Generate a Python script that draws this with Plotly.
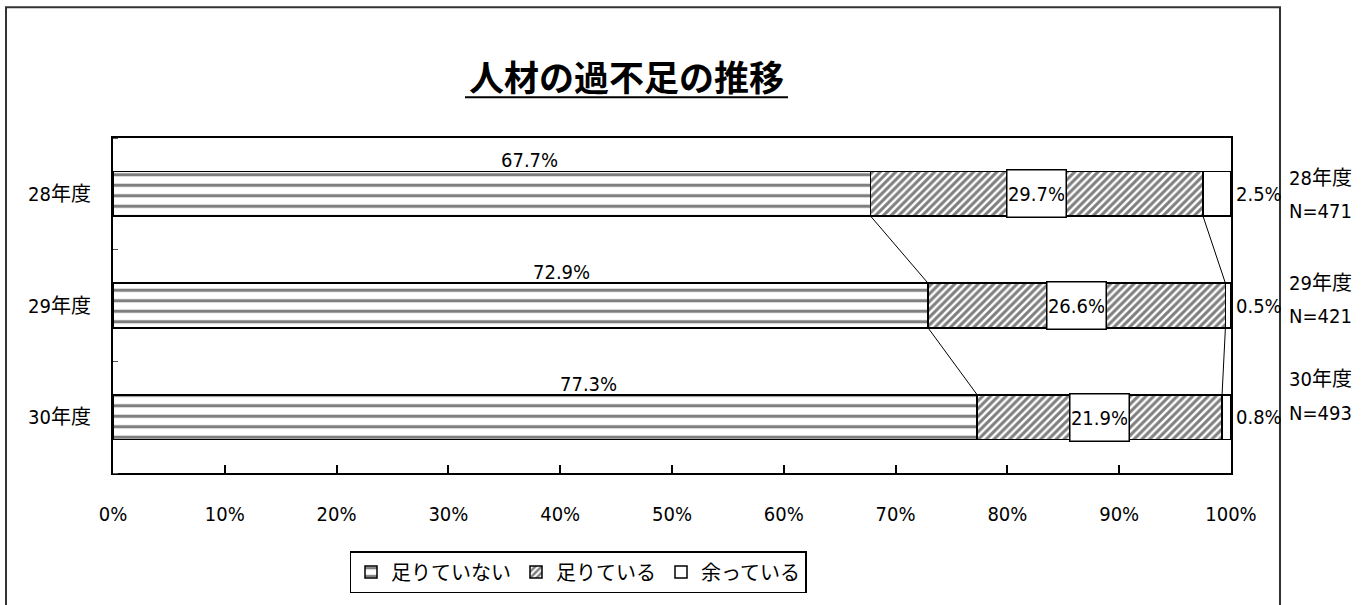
import numpy as np
import plotly.graph_objects as go

# 年度別の回答割合（%）
years = ["28年度", "29年度", "30年度"]
n_counts = [471, 421, 493]
short = [67.7, 72.9, 77.3]      # 足りていない
enough = [29.7, 26.6, 21.9]     # 足りている
surplus = [2.5, 0.5, 0.8]       # 余っている
series_names = ["足りていない", "足りている", "余っている"]
x_ticks = list(range(0, 101, 10))

W, H = 1368, 605
L, R, T, B = 113, 1231, 138, 476
BAR_W = 0.4

LATIN = "Liberation Sans Narrow, DejaVu Sans Condensed, Noto Sans CJK JP, sans-serif"
CJK = "Noto Sans CJK JP, sans-serif"


def px_x(px):
    return (px - L) / (R - L)


def px_y(py):
    return (B - py) / (B - T)


ypos = np.arange(len(years))
vals = np.array([short, enough, surplus], dtype=float)
norm = vals / vals.sum(axis=0) * 100.0
cum1 = norm[0]
cum2 = norm[0] + norm[1]

fig = go.Figure()

patterns = [
    dict(shape="-", size=10.5, solidity=0.3, fgcolor="black", bgcolor="white", fillmode="overlay"),
    dict(shape="/", size=5.5, solidity=0.55, fgcolor="black", bgcolor="white", fillmode="overlay"),
    None,
]
for name, v, pat in zip(series_names, [short, enough, surplus], patterns):
    marker = dict(color="white", line=dict(color="black", width=1.5))
    if pat is not None:
        marker["pattern"] = pat
    fig.add_trace(go.Bar(
        y=ypos, x=v, orientation="h", name=name, width=BAR_W,
        marker=marker, hoverinfo="skip",
    ))

# 系列線（各棒の区切り位置を結ぶ）
for cum in (cum1, cum2):
    for i in range(len(years) - 1):
        fig.add_trace(go.Scatter(
            x=[cum[i], cum[i + 1]],
            y=[ypos[i] + BAR_W / 2, ypos[i + 1] - BAR_W / 2],
            mode="lines", line=dict(color="black", width=1),
            showlegend=False, hoverinfo="skip",
        ))


def label(**kw):
    base = dict(showarrow=False, xanchor="center", yanchor="middle",
                font=dict(family=LATIN, size=20, color="black"))
    base.update(kw)
    return base


annotations = []
for i in range(len(years)):
    # 足りていない：棒の上
    annotations.append(label(
        x=short[i] * 0.55, y=ypos[i] - 0.3, xref="x", yref="y",
        text=f"{short[i]:.1f}%",
    ))
    # 足りている：枠付きラベル
    annotations.append(label(
        x=cum1[i] + norm[1][i] / 2, y=ypos[i], xref="x", yref="y",
        text=f"{enough[i]:.1f}%",
        bgcolor="white", bordercolor="black", borderwidth=1.5,
        width=56, height=44, borderpad=1,
    ))
    # 余っている：グラフ右外
    annotations.append(label(
        x=1, y=ypos[i], xref="paper", yref="y", xanchor="left", xshift=3,
        text=f"{surplus[i]:.1f}%",
    ))

# 右側の年度・回答数
n_centers = [195, 301, 398]
for yr, n, cy in zip(years, n_counts, n_centers):
    annotations.append(label(
        x=px_x(1320), y=px_y(cy - 17), xref="paper", yref="paper", text=yr,
    ))
    annotations.append(label(
        x=px_x(1320), y=px_y(cy + 17), xref="paper", yref="paper", text=f"N={n}",
    ))

# タイトル
annotations.append(label(
    x=px_x(626), y=px_y(75), xref="paper", yref="paper",
    text="<b>人材の過不足の推移</b>",
    font=dict(family=CJK, size=35, color="black"),
))

shapes = [
    # タイトル下線
    dict(type="line", xref="paper", yref="paper",
         x0=px_x(465), x1=px_x(788), y0=px_y(97), y1=px_y(97),
         line=dict(color="black", width=2)),
    # グラフエリアの枠
    dict(type="rect", xref="paper", yref="paper",
         x0=px_x(6), x1=px_x(1280), y0=px_y(6), y1=px_y(615),
         line=dict(color="#333", width=2), layer="below"),
]

fig.update_layout(
    width=W, height=H,
    margin=dict(l=L, r=W - R, t=T, b=H - B, pad=0),
    barmode="stack", barnorm="percent",
    paper_bgcolor="white", plot_bgcolor="white",
    showlegend=True,
    legend=dict(
        orientation="h", x=px_x(578), y=px_y(576),
        xanchor="center", yanchor="middle",
        bordercolor="black", borderwidth=1.5, bgcolor="white",
        font=dict(family=CJK, size=20, color="black"),
        traceorder="normal", itemclick=False, itemdoubleclick=False,
    ),
    xaxis=dict(
        range=[0, 100], tickvals=x_ticks, ticktext=[f"{t}%" for t in x_ticks],
        ticks="inside", ticklen=8, tickwidth=1.5, tickcolor="black",
        showline=True, linecolor="black", linewidth=2, mirror=True,
        showgrid=False, zeroline=False, ticklabelstandoff=22,
        tickfont=dict(family=LATIN, size=20, color="black"),
    ),
    yaxis=dict(
        range=[len(years) - 0.5, -0.5], tickvals=list(ypos), ticktext=years,
        ticks="", showline=True, linecolor="black", linewidth=2, mirror=True,
        showgrid=False, zeroline=False, ticklabelstandoff=16,
        minor=dict(ticks="inside", ticklen=5, tickwidth=1, tickcolor="#555",
                   tick0=0.5, dtick=1, showgrid=False),
        tickfont=dict(family=LATIN, size=20, color="black"),
    ),
    annotations=annotations,
    shapes=shapes,
)

fig.write_html("out.html")
